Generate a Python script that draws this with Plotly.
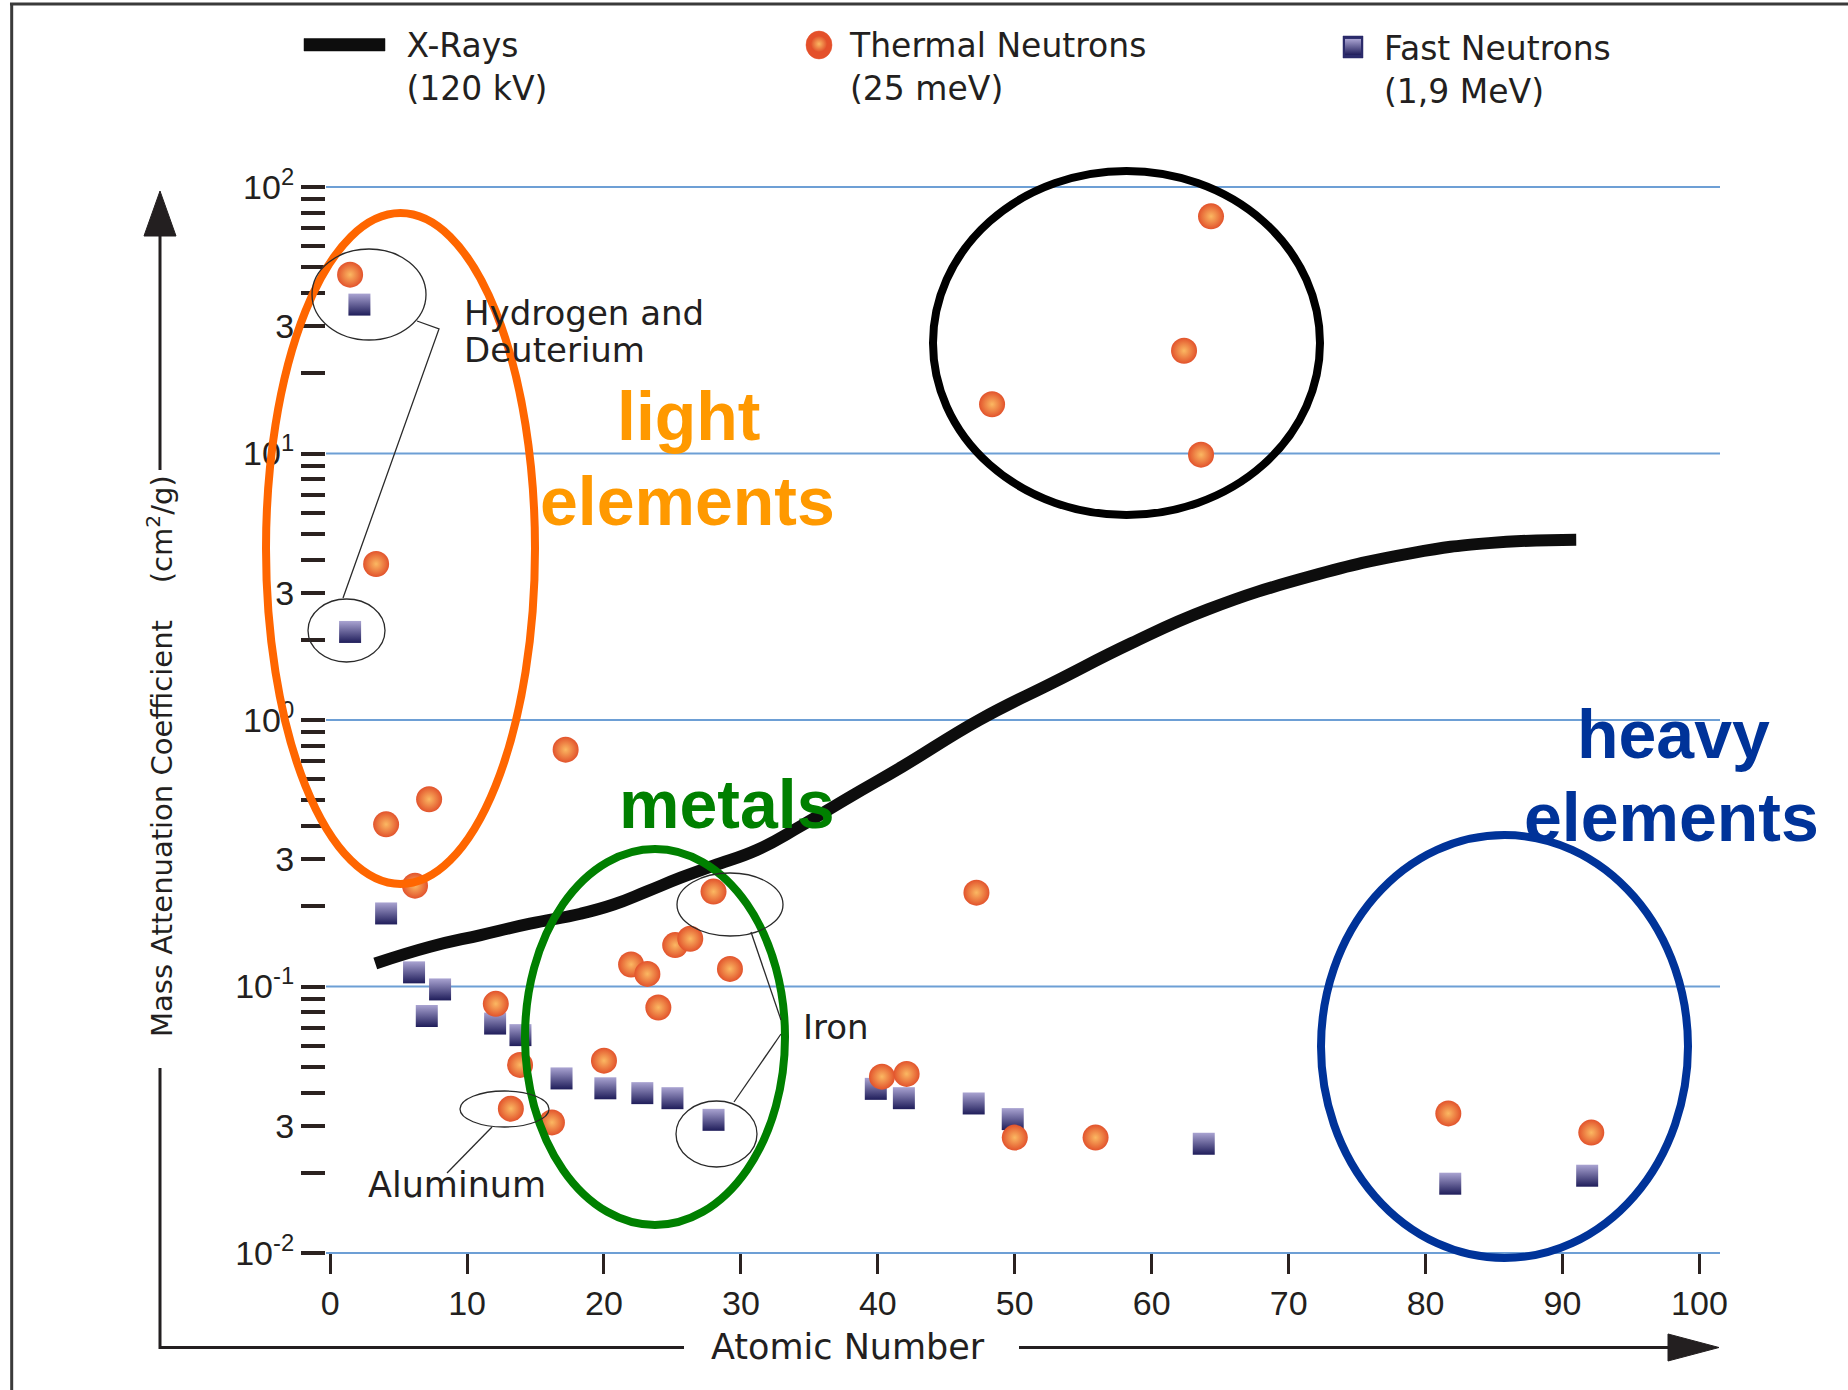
import math
import plotly.graph_objects as go

# ---------------- data ----------------
xray_z = [3.3, 7.3, 11.0, 14.6, 18.3, 20.7, 23.1, 25.6, 28.0, 31.2, 34.3, 38.0, 41.8,
          47.4, 52.9, 58.5, 64.1, 71.6, 79.0, 84.6, 91.0]
xray_mu = [0.122, 0.141, 0.156, 0.172, 0.1875, 0.203, 0.227, 0.256, 0.284, 0.326, 0.398,
           0.516, 0.669, 1.00, 1.39, 1.94, 2.60, 3.46, 4.23, 4.61, 4.75]

thermal_z = [1.46, 3.36, 4.09, 6.2, 7.23, 12.1, 13.2, 13.87, 16.2, 17.2, 20.0, 21.98,
             23.17, 23.97, 25.2, 26.3, 28.0, 29.2, 40.3, 42.1, 47.2, 48.34, 50.0, 55.9,
             62.36, 63.6, 64.33, 81.66, 92.1]
thermal_mu = [46.9, 3.85, 0.406, 0.239, 0.504, 0.0861, 0.0348, 0.0508, 0.0309, 0.774,
              0.0527, 0.121, 0.1115, 0.0834, 0.143, 0.151, 0.227, 0.1164, 0.0459, 0.047,
              0.225, 15.3, 0.0271, 0.0271, 24.3, 9.9, 77.6, 0.0334, 0.0283]

fast_z = [2.14, 1.46, 4.09, 6.13, 7.06, 8.03, 12.05, 13.9, 16.9, 20.1, 22.8, 25.0, 28.0,
          39.85, 41.9, 47.0, 49.85, 63.8, 81.8, 91.8]
fast_mu = [36.2, 2.14, 0.188, 0.113, 0.0775, 0.0975, 0.0726, 0.0657, 0.0452, 0.0415,
           0.0398, 0.0381, 0.0316, 0.0413, 0.0381, 0.0364, 0.0318, 0.0257, 0.0182, 0.0195]

series_names = ["\u2002X-Rays<br>\u2002(120 kV)", "Thermal Neutrons<br>(25 meV)", "Fast Neutrons<br>(1,9 MeV)"]

x_tick_vals = [0, 10, 20, 30, 40, 50, 60, 70, 80, 90, 100]
x_tick_text = ["0", "10", "20", "30", "40", "50", "60", "70", "80", "90", "100"]

y_decades = [0.01, 0.1, 1, 10, 100]
y_decade_labels = ["10<sup>-2</sup>", "10<sup>-1</sup>", "10<sup>0</sup>", "10<sup>1</sup>", "10<sup>2</sup>"]
y_three_vals = [0.03, 0.3, 3, 30]
y_three_labels = ["3", "3", "3", "3"]
y_minor_mults = [2, 4, 5, 6, 7, 8, 9]

# ---------------- geometry helpers ----------------
W, H = 1848, 1390
PL, PR, PT, PB = 326, 1720, 187, 1253


def px(X):
    return (X - PL) / (PR - PL)


def py(Y):
    return (PB - Y) / (PB - PT)


ytickvals = y_decades + y_three_vals
yticktext = y_decade_labels + y_three_labels
yminorvals = [round(m * d, 6) for d in y_decades[:-1] for m in y_minor_mults]

TXT = "#231f20"
TICK = "#2b2220"
ARIAL = "Liberation Sans, Arial, sans-serif"
DEJA = "DejaVu Sans, sans-serif"

fig = go.Figure()

fig.add_trace(go.Scatter(
    x=xray_z, y=xray_mu, mode="lines", name=series_names[0],
    line=dict(color="#0d0d0d", width=12, shape="spline", smoothing=1.3),
    legend="legend", hoverinfo="skip"))

fig.add_trace(go.Scatter(
    x=fast_z, y=fast_mu, mode="markers", name=series_names[2],
    marker=dict(symbol="square", size=22, color="#aaa4d2",
                gradient=dict(type="vertical", color="#1f1d5a"),
                line=dict(width=0)),
    legend="legend3", hoverinfo="skip"))

fig.add_trace(go.Scatter(
    x=thermal_z, y=thermal_mu, mode="markers", name=series_names[1],
    marker=dict(symbol="circle", size=26, color="#e2532c",
                gradient=dict(type="radial", color="#fbb862"),
                line=dict(width=0)),
    legend="legend2", hoverinfo="skip"))

shapes = []

# decade grid lines
for dv in y_decades:
    yy = (math.log10(dv) + 2) / 4
    shapes.append(dict(type="line", xref="paper", yref="paper", x0=0, x1=1, y0=yy, y1=yy,
                       line=dict(color="#6d9fd5", width=2), layer="below"))


def ell(x0, x1, y0, y1, color, width, fill=None):
    s = dict(type="circle", xref="paper", yref="paper",
             x0=px(x0), x1=px(x1), y0=py(y1), y1=py(y0),
             line=dict(color=color, width=width), layer="above")
    if fill:
        s["fillcolor"] = fill
    shapes.append(s)


def path(pts, color, width, fill=None, close=False):
    d = "M " + " L ".join(f"{px(a):.5f},{py(b):.5f}" for a, b in pts)
    if close:
        d += " Z"
    s = dict(type="path", xref="paper", yref="paper", path=d,
             line=dict(color=color, width=width), layer="above")
    if fill:
        s["fillcolor"] = fill
    shapes.append(s)


# thick highlight ellipses
ell(266, 535, 213, 884, "#ff6600", 8)
ell(933, 1320, 171, 515, "#000000", 8)
ell(525, 785, 849, 1225, "#008000", 8)
ell(1321, 1688, 835, 1258, "#003399", 8)

# thin callout ellipses
thin = "#2a2a2a"
ell(312, 426, 249, 340, thin, 1.3)
ell(308, 385, 599, 662, thin, 1.3)
ell(460, 549, 1091, 1127, thin, 1.3)
ell(677, 783, 873, 936, thin, 1.3)
ell(676, 757, 1101, 1167, thin, 1.3)

# callout connectors
path([(417, 321), (439, 329), (343, 598)], thin, 1.3)
path([(492, 1127), (447, 1173)], thin, 1.3)
path([(751, 932), (781, 1020)], thin, 1.3)
path([(781, 1034), (734, 1102)], thin, 1.3)

# frame lines
path([(10, 4), (1848, 4)], "#3a3a3a", 3)
path([(11.7, 4), (11.7, 1390)], "#3a3a3a", 3)

# axis arrows
path([(160, 232), (160, 470)], TXT, 3)
path([(160, 1068), (160, 1347.5), (684, 1347.5)], TXT, 3)
path([(1019, 1347.5), (1672, 1347.5)], TXT, 3)
path([(144, 236), (176, 236), (160, 191)], TXT, 1, fill=TXT, close=True)
path([(1668, 1334), (1668, 1361), (1719, 1347.5)], TXT, 1, fill=TXT, close=True)

# larger backing for the legend keys (the legend caps its sample sizes)
path([(304, 38.5), (385, 38.5), (385, 51), (304, 51)], "#0d0d0d", 0.5, fill="#0d0d0d", close=True)
ell(806, 832, 31, 59, "#e4502a", 0.5, fill="#e4502a")
path([(1343, 36), (1363, 36), (1363, 58), (1343, 58)], "#2b2b6b", 0.5, fill="#2b2b6b", close=True)

annotations = []


def ann(text, X, Y, size, color, family, xanchor="center", angle=0):
    annotations.append(dict(text=text, xref="paper", yref="paper", x=px(X), y=py(Y),
                            xanchor=xanchor, yanchor="middle", showarrow=False,
                            textangle=angle,
                            font=dict(size=size, color=color, family=family)))


ann("<b>light</b>", 689, 416, 68, "#ff9900", ARIAL)
ann("<b>elements</b>", 687, 501, 68, "#ff9900", ARIAL)
ann("<b>metals</b>", 726, 804, 68, "#008000", ARIAL)
ann("<b>heavy</b>", 1673, 734, 68, "#003399", ARIAL)
ann("<b>elements</b>", 1671, 817, 68, "#003399", ARIAL)

ann("Hydrogen and", 462, 313, 34, TXT, DEJA, xanchor="left")
ann("Deuterium", 462, 350, 34, TXT, DEJA, xanchor="left")
ann("Aluminum", 366, 1185, 35, TXT, DEJA, xanchor="left")
ann("Iron", 801, 1027, 34, TXT, DEJA, xanchor="left")

ann("Atomic Number", 848, 1347, 35, TXT, DEJA)
ann("Mass Attenuation Coefficient\u00a0\u00a0\u00a0\u00a0(cm<sup>2</sup>/g)", 160, 756, 29, TXT, DEJA, angle=-90)

legend_common = dict(xanchor="left", yanchor="top", valign="top", orientation="v",
                     bgcolor="rgba(0,0,0,0)", borderwidth=0, itemsizing="trace",
                     font=dict(family=DEJA, size=33, color=TXT))

fig.update_layout(
    width=W, height=H, autosize=False,
    margin=dict(l=PL, r=W - PR, t=PT, b=H - PB, pad=0),
    paper_bgcolor="white", plot_bgcolor="white",
    showlegend=True,
    legend=dict(x=px(299), y=py(16), itemwidth=81, **legend_common),
    legend2=dict(x=px(788), y=py(16), itemwidth=52, **legend_common),
    legend3=dict(x=px(1322), y=py(19), itemwidth=52, **legend_common),
    xaxis=dict(range=[-0.3, 101.5], tickmode="array", tickvals=x_tick_vals, ticktext=x_tick_text,
               ticks="outside", ticklen=20, tickwidth=2.5, tickcolor=TICK,
               showgrid=False, zeroline=False, showline=False,
               tickfont=dict(family=ARIAL, size=34, color=TXT)),
    yaxis=dict(type="log", range=[-2, 2], tickmode="array", tickvals=ytickvals, ticktext=yticktext,
               ticks="outside", ticklen=24, tickwidth=4, tickcolor=TICK,
               showgrid=False, zeroline=False, showline=False,
               minor=dict(tickmode="array", tickvals=yminorvals, ticks="outside",
                          ticklen=24, tickwidth=4, tickcolor=TICK, showgrid=False),
               tickfont=dict(family=ARIAL, size=34, color=TXT)),
    shapes=shapes,
    annotations=annotations,
)

fig.write_html("out.html", config={"displayModeBar": False},
               post_script="document.body.style.margin='0';document.body.style.overflow='hidden';")
